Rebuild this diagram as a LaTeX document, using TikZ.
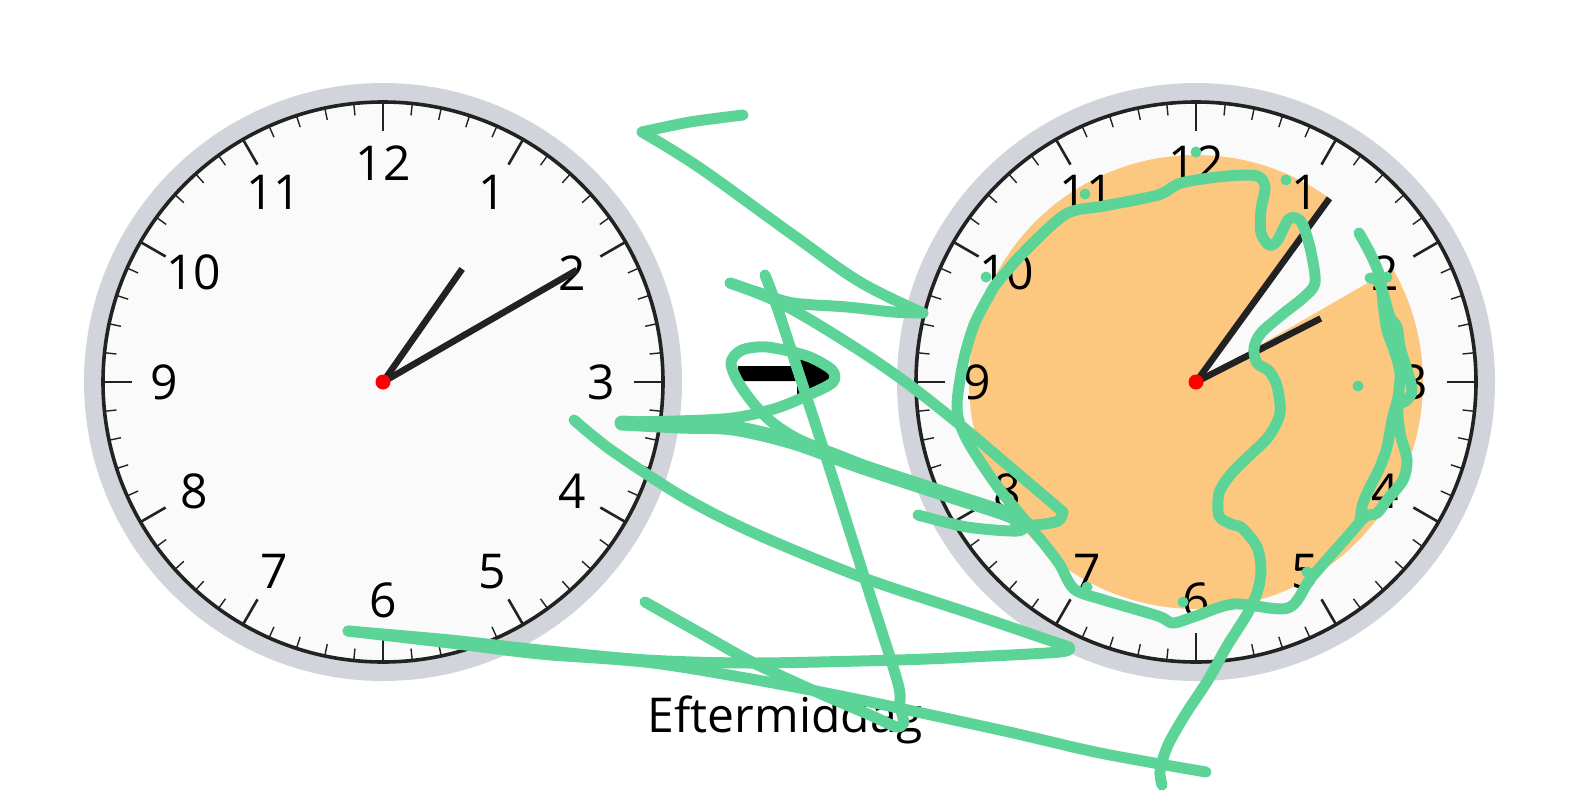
\documentclass[tikz,border=0pt]{standalone}
\usepackage{fontspec}
\setmainfont{Open Sans}
\definecolor{ringgray}{HTML}{D1D5DB}
\definecolor{facecol}{HTML}{FAFAFA}
\definecolor{inkcol}{HTML}{222222}
\definecolor{pencol}{RGB}{92,212,152}
\definecolor{wedgecol}{HTML}{FCC880}
\begin{document}
\begin{tikzpicture}[x=1pt,y=-1pt,
  numlabel/.style={font=\fontsize{48}{56}\selectfont, text=black, inner sep=0pt, anchor=center},
  majortick/.style={draw=inkcol, line width=2.6pt},
  minortick/.style={draw=inkcol, line width=1.4pt},
  handline/.style={draw=inkcol, line width=6.5pt},
  penline/.style={draw=pencol, line width=11pt, line cap=round, line join=round},
  penthick/.style={draw=pencol, line width=15pt, line cap=round, line join=round},
  pendot/.style={fill=pencol}
]
\useasboundingbox (0,0) rectangle (1576,800);
\fill[white] (0,0) rectangle (1576,800);

% ---------- clock faces ----------
\foreach \cx/\nm in {383/l,1196/r} {
  \begin{scope}[shift={(\cx,382)}]
    \fill[ringgray] (0,0) circle[radius=299];
    \fill[facecol] (0,0) circle[radius=280];
    \foreach \i in {0,...,59} {
      \pgfmathtruncatemacro\mm{mod(\i,5)}
      \ifnum\mm=0
        \draw[majortick] (\i*6-90:251) -- (\i*6-90:280);
      \else
        \draw[minortick] (\i*6-90:268) -- (\i*6-90:280);
      \fi
    }
    \draw[inkcol, line width=3.6pt] (0,0) circle[radius=280];
  \end{scope}
}

% orange elapsed sector on the right clock
\begin{scope}[shift={(1196,382)}]
  \fill[wedgecol] (0,0) -- plot[domain=-30:306, samples=150] ({227*cos(\x)},{227*sin(\x)}) -- cycle;
\end{scope}

% numbers
\foreach \cx/\nm in {383/l,1196/r} {
  \begin{scope}[shift={(\cx,382)}]
    \foreach \n in {1,...,12}
      \node[numlabel] (\nm num\n) at (\n*30-90:218.5) {\n};
  \end{scope}
}

% hands left clock (1:10)
\begin{scope}[shift={(383,382)}]
  \coordinate (lc) at (0,0);
  \draw[handline] (lc) -- (35-90:138);
  \draw[handline] (lc) -- (60-90:224);
  \fill[red] (lc) circle[radius=7.5];
\end{scope}

% hands right clock (2:06)
\begin{scope}[shift={(1196,382)}]
  \coordinate (rc) at (0,0);
  \draw[handline] (rc) -- (63-90:140);
  \draw[handline] (rc) -- (36-90:227);
  \fill[red] (rc) circle[radius=7.5];
\end{scope}

% middle arrow
\fill[black] (738,366) -- (797,366) -- (797,352) -- (840,374) -- (797,395) -- (797,381) -- (738,381) -- cycle;

% caption
\node[font=\fontsize{48}{56}\selectfont, anchor=base, inner sep=0pt] (caption) at (785.5,732) {Eftermiddag};

% ---------- green pen strokes ----------
\draw[penline] plot[smooth, tension=0.5] coordinates {(743,115) (690,122) (642,132)};
\draw[penline] plot[smooth, tension=0.6] coordinates {(642,132) (700,168) (793,235) (860,282) (923,313)};
\draw[penline] plot[smooth, tension=0.5] coordinates {(923,313) (893,312) (847,307) (793,303) (760,293) (730,283)};
\draw[penline] plot[smooth, tension=0.6] coordinates {(730,283) (780,303) (840,338) (900,378) (959,424) (1010,467) (1063,512)};
\draw[penline] plot[smooth, tension=0.5] coordinates {(1063,512) (1058,521) (1035,525) (1015,523)};

\draw[penthick] plot[smooth, tension=0.5] coordinates {(622,423) (680,426) (733,428) (793,442) (860,466) (933,490) (1004,513) (1025,523)};
\draw[penline] plot[smooth, tension=0.5] coordinates {(918,515) (967,527) (1017,531) (1027,524)};
\draw[penline] plot[smooth, tension=0.5] coordinates {(1027,524) (990,509) (940,493) (893,477) (843,457) (800,440) (773,423) (753,403) (737,380) (731,362) (742,350) (767,347) (807,356) (832,370) (833,382) (813,393) (777,408) (733,418) (677,421) (623,422)};

\draw[penline] plot[smooth, tension=0.5] coordinates {(574,420) (611,450) (683,497) (754,533) (861,577) (969,613) (1069,647)};
\draw[penline] plot[smooth, tension=0.5] coordinates {(1069,647) (1060,652) (970,657) (897,660) (754,663) (647,660) (540,650) (450,640) (348,631)};
\draw[penline] plot[smooth, tension=0.5] coordinates {(348,631) (450,643) (540,654) (661,664) (826,693) (1000,730) (1100,753) (1206,772)};

\draw[penline] plot[smooth, tension=0.5] coordinates {(645,602) (700,633) (754,663) (819,693) (870,715) (897,727) (904,722)};
\draw[penline] plot[smooth, tension=0.5] coordinates {(904,722) (900,705) (897,680) (861,567) (826,457) (801,380) (777,307) (765,275)};

% big loop on right clock
\draw[penline] plot[smooth, tension=0.5] coordinates {(1162,785) (1160,770) (1168,745) (1185,715) (1208,680) (1227,646) (1246,616) (1257,593) (1261,570) (1257,547) (1242,528) (1231,524) (1219,516) (1219,493) (1231,474) (1250,455) (1269,436) (1280,413) (1277,386) (1269,371) (1257,363) (1254,348) (1261,333) (1284,313) (1303,298) (1315,283) (1311,252) (1303,225) (1296,218) (1288,220) (1277,241) (1269,245) (1261,233) (1261,210) (1265,187) (1257,176) (1227,176) (1181,183) (1158,195) (1104,206) (1066,214) (1024,252) (997,283) (990,294) (974,325) (963,363) (957,409) (967,440) (997,486) (1028,524) (1058,562) (1074,589) (1104,600) (1158,616) (1173,623) (1196,616) (1234,604) (1288,608) (1311,578) (1347,537) (1365,517) (1377,513) (1387,500) (1403,480) (1407,460) (1400,433) (1398,407) (1407,400) (1412,390) (1407,370) (1400,347) (1397,327) (1390,317) (1383,293) (1377,280) (1370,278)};
\draw[penline] plot[smooth, tension=0.5] coordinates {(1359,233) (1370,253) (1380,277) (1383,303) (1387,330) (1395,353) (1400,373) (1398,397) (1392,420) (1387,447) (1380,467) (1370,487) (1363,503) (1360,520)};

% dots
\foreach \dx/\dy in {1196/152, 1286/180, 1085/194, 986/277, 963/368, 1387/277, 1358/386, 1307/572, 1183/602, 1087/587} {
  \fill[pendot] (\dx,\dy) circle[radius=5.5];
}
\end{tikzpicture}
\end{document}
